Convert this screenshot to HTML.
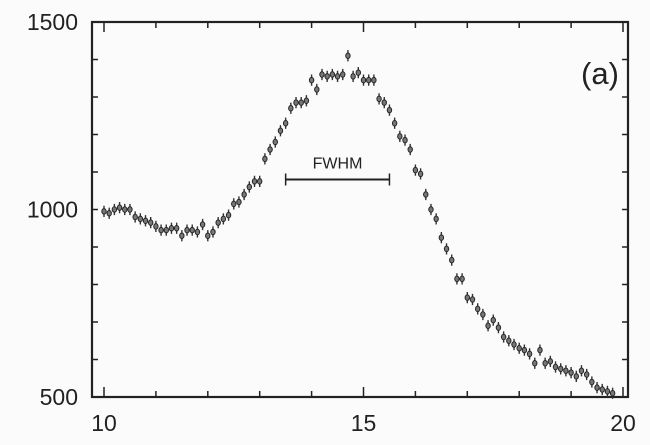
<!DOCTYPE html>
<html><head><meta charset="utf-8"><style>
body{margin:0;background:#fff;}
svg{display:block;font-family:"Liberation Sans",Arial,sans-serif;}
</style></head><body>
<svg id="chart" width="650" height="445" viewBox="0 0 650 445">
<rect x="0" y="0" width="650" height="445" fill="#fbfbfb"/>
<g id="axes"></g>
<g id="points"></g>
<g>
<line id="fwhmLine" stroke="#222" stroke-width="2"/>
<line id="fwhmL" stroke="#222" stroke-width="1.5"/>
<line id="fwhmR" stroke="#222" stroke-width="1.5"/>
<text id="fwhmText" font-size="16" text-anchor="middle" fill="#222">FWHM</text>
</g>
<text x="600" y="84" font-size="31" text-anchor="middle" fill="#222">(a)</text>
</svg>
<script>
const xValues=[10.0,10.1,10.2,10.3,10.4,10.5,10.6,10.7,10.8,10.9,11.0,11.1,11.2,11.3,11.4,11.5,11.6,11.7,11.8,11.9,12.0,12.1,12.2,12.3,12.4,12.5,12.6,12.7,12.8,12.9,13.0,13.1,13.2,13.3,13.4,13.5,13.6,13.7,13.8,13.9,14.0,14.1,14.2,14.3,14.4,14.5,14.6,14.7,14.8,14.9,15.0,15.1,15.2,15.3,15.4,15.5,15.6,15.7,15.8,15.9,16.0,16.1,16.2,16.3,16.4,16.5,16.6,16.7,16.8,16.9,17.0,17.1,17.2,17.3,17.4,17.5,17.6,17.7,17.8,17.9,18.0,18.1,18.2,18.3,18.4,18.5,18.6,18.7,18.8,18.9,19.0,19.1,19.2,19.3,19.4,19.5,19.6,19.7,19.8];
const yValues=[995,990,1000,1005,1000,1000,980,975,970,965,955,945,945,950,950,930,945,945,940,960,930,940,965,975,985,1015,1020,1040,1060,1075,1075,1135,1160,1180,1210,1230,1270,1285,1285,1290,1345,1320,1360,1355,1360,1355,1360,1410,1355,1365,1345,1345,1345,1295,1285,1265,1230,1195,1185,1160,1105,1095,1040,1000,975,925,895,865,815,815,765,760,735,720,690,705,685,660,650,640,630,625,615,590,625,590,595,580,575,570,565,555,570,560,540,525,520,515,510];
const errValue=[15];
const xTickLabels=[10,15,20];
const yTickLabels=[500,1000,1500];
const fwhmRange=[13.5,15.5];
const fwhmLevel=[1080];

const L=92,R=628,T=22,B=397;
const xs=v=>104+(v-10)*51.9;
const ys=v=>B-(v-500)*(B-T)/1000;
const NS="http://www.w3.org/2000/svg";
function mk(tag,attrs,parent){const e=document.createElementNS(NS,tag);for(const k in attrs)e.setAttribute(k,attrs[k]);parent.appendChild(e);return e;}
const ax=document.getElementById('axes');
let f=mk('rect',{x:L,y:T,width:R-L,height:B-T,fill:'none',stroke:'#222','stroke-width':2.2},ax);


for(let v=10;v<=20;v++){
  const x=xs(v),len=(v%5===0)?10:6;
  let t=mk('line',{x1:x,x2:x,y1:B,y2:B-len,stroke:'#222','stroke-width':1.5},ax);
  
  
  let t2=mk('line',{x1:x,x2:x,y1:T,y2:T+len,stroke:'#222','stroke-width':1.5},ax);
  
  
}
for(let v=600;v<1500;v+=100){
  const y=ys(v);
  let t=mk('line',{x1:L,x2:L+6,y1:y,y2:y,stroke:'#222','stroke-width':1.5},ax);
  
  
  let t2=mk('line',{x1:R,x2:R-6,y1:y,y2:y,stroke:'#222','stroke-width':1.5},ax);
  
  
}
xTickLabels.forEach(v=>{
  let t=mk('text',{x:xs(v),y:431,'font-size':23,'text-anchor':'middle',fill:'#222'},ax);
  t.textContent=v;
  
  
});
yTickLabels.forEach(v=>{
  let t=mk('text',{x:78,y:ys(v)+8,'font-size':23,'text-anchor':'end',fill:'#222'},ax);
  t.textContent=v;
  
  
});
const pg=document.getElementById('points');
xValues.forEach((xv,i)=>{
  const yv=yValues[i],x=xs(xv);
  const g=mk('g',{},pg);
  
  
  mk('line',{x1:x,x2:x,y1:ys(yv+errValue[0]),y2:ys(yv-errValue[0]),stroke:'#333','stroke-width':1.4},g);
  mk('ellipse',{cx:x,cy:ys(yv),rx:2.2,ry:2.8,fill:'#777',stroke:'#222','stroke-width':1},g);
});
const fy=ys(fwhmLevel[0]);
const fl=document.getElementById('fwhmLine');
fl.setAttribute('x1',xs(fwhmRange[0]));fl.setAttribute('x2',xs(fwhmRange[1]));fl.setAttribute('y1',fy);fl.setAttribute('y2',fy);
const cl=document.getElementById('fwhmL');
cl.setAttribute('x1',xs(fwhmRange[0]));cl.setAttribute('x2',xs(fwhmRange[0]));cl.setAttribute('y1',fy-6);cl.setAttribute('y2',fy+6);
const cr=document.getElementById('fwhmR');
cr.setAttribute('x1',xs(fwhmRange[1]));cr.setAttribute('x2',xs(fwhmRange[1]));cr.setAttribute('y1',fy-6);cr.setAttribute('y2',fy+6);
const ft=document.getElementById('fwhmText');
ft.setAttribute('x',(xs(fwhmRange[0])+xs(fwhmRange[1]))/2);ft.setAttribute('y',fy-11);
</script>
</body></html>
